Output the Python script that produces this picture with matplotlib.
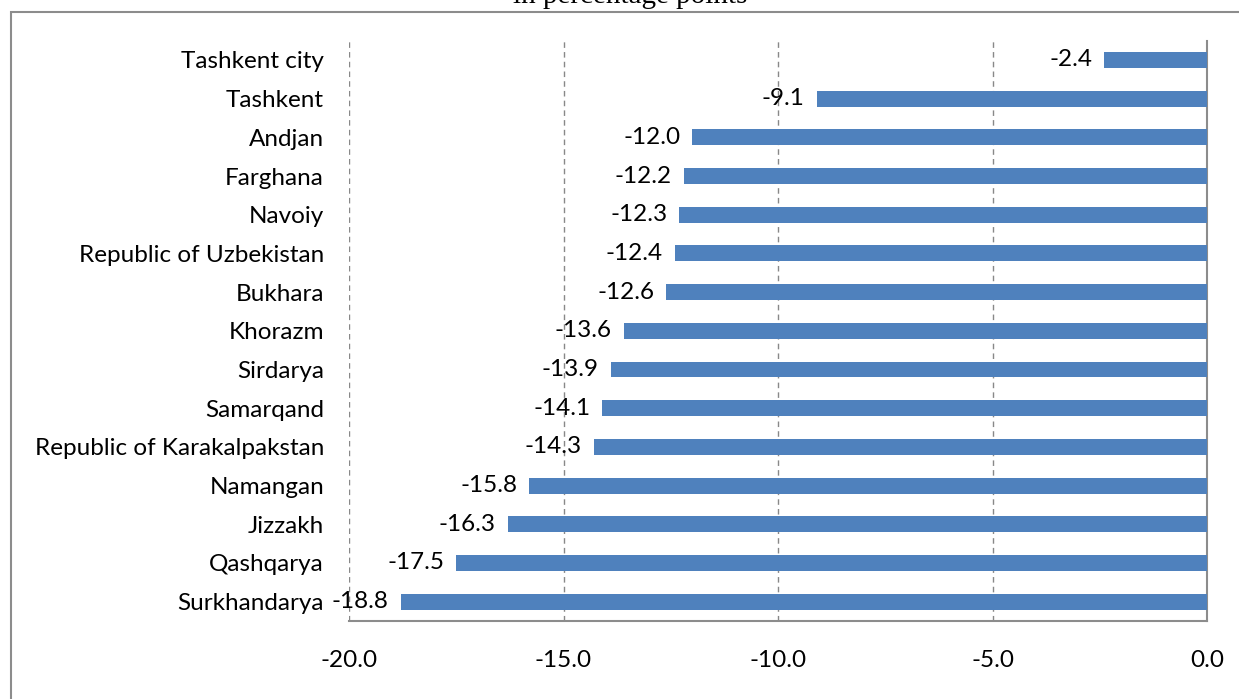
import matplotlib.pyplot as plt
from matplotlib.patches import Rectangle

regions = ["Tashkent city", "Tashkent", "Andjan", "Farghana", "Navoiy",
           "Republic of Uzbekistan", "Bukhara", "Khorazm", "Sirdarya",
           "Samarqand", "Republic of Karakalpakstan", "Namangan", "Jizzakh",
           "Qashqarya", "Surkhandarya"]
change = [-2.4, -9.1, -12.0, -12.2, -12.3, -12.4, -12.6, -13.6, -13.9,
          -14.1, -14.3, -15.8, -16.3, -17.5, -18.8]
xticks = [-20, -15, -10, -5, 0]

plt.rcParams['font.family'] = ['Lato', 'DejaVu Sans']
fs = 17.5

fig = plt.figure(figsize=(12.39, 6.99), dpi=100)
ax = fig.add_axes([0.2817, 0.1116, 0.6925, 0.8303])

ypos = list(range(len(regions)))
ax.barh(ypos, change, height=0.41, color='#4F81BD', zorder=3)
ax.set_ylim(len(regions) - 0.5, -0.5)
ax.set_xlim(-20, 0)

for y, v in zip(ypos, change):
    ax.text(v - 0.28, y, "{:.1f}".format(v), ha='right', va='center',
            fontsize=fs, color='black', zorder=4)

ax.set_yticks(ypos)
ax.set_yticklabels(regions, fontsize=fs)
ax.set_xticks(xticks)
ax.set_xticklabels(["{:.1f}".format(t) for t in xticks], fontsize=fs)
ax.tick_params(axis='both', length=0)
ax.tick_params(axis='y', pad=18)
ax.tick_params(axis='x', pad=21)

ax.grid(axis='x', color='#888888', linestyle=(0, (4, 3)), linewidth=1.0, zorder=0)
for s in ['top', 'left']:
    ax.spines[s].set_visible(False)
for s in ['bottom', 'right']:
    ax.spines[s].set_color('#8c8c8c')
    ax.spines[s].set_linewidth(1.5)

# outer chart border (partly cut off)
fig.patches.append(Rectangle((11 / 1239, -0.1), 1.2, 1 - 12 / 699 + 0.1,
                             transform=fig.transFigure, fill=False,
                             edgecolor='#8c8c8c', linewidth=1.5))

fig.text(630 / 1239, 1 - 3 / 699, "in percentage points", ha='center',
         va='baseline', fontsize=21, family='Liberation Serif')

fig.savefig("out.png", dpi=100)
